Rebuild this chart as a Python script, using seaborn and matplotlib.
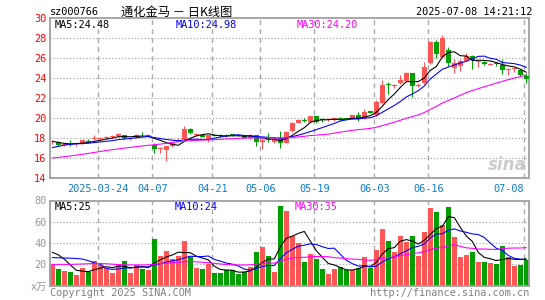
import numpy as np
import pandas as pd
import matplotlib
matplotlib.use("Agg")
import matplotlib.pyplot as plt
import seaborn as sns

sns.set_style("white")
plt.rcParams['font.family'] = ['DejaVu Sans Mono', 'Noto Sans CJK SC']

# ---------------- data ----------------
opens = [17.55, 17.6, 17.3, 17.5, 17.35, 17.45, 17.7, 17.85, 17.9, 17.95,
         18.05, 18.2, 18.25, 17.85, 18.05, 18.4, 18.15, 17.3, 16.85, 16.8,
         17.2, 17.6, 17.9, 18.85, 18.3, 18.3, 17.75, 18.3, 18.25, 18.3,
         18.35, 18.3, 18.25, 17.95, 18.25, 17.6, 17.85, 17.6, 18.0, 17.5,
         18.65, 19.5, 19.8, 19.55, 20.15, 19.85, 19.75, 19.75, 19.95, 19.95,
         19.9, 20.25, 19.9, 20.65, 20.25, 21.45, 23.3, 23.2, 23.45, 23.65,
         24.45, 23.2, 23.45, 25.5, 27.6, 26.05, 26.75, 25.0, 25.2, 25.7,
         26.2, 25.55, 25.55, 25.3, 25.45, 25.25, 24.8, 24.85, 24.75, 24.2]
highs = [17.75, 17.65, 17.5, 17.75, 17.5, 17.8, 17.85, 18.3, 18.1, 18.15,
         18.25, 18.45, 18.3, 18.05, 18.35, 18.55, 18.35, 17.45, 17.05, 17.2,
         17.6, 17.95, 19.15, 18.95, 18.45, 18.35, 18.3, 18.35, 18.35, 18.4,
         18.4, 18.35, 18.3, 18.4, 18.3, 17.85, 18.45, 17.95, 18.65, 18.65,
         19.6, 19.9, 19.95, 20.2, 20.2, 19.95, 19.95, 20.05, 20.1, 20.0,
         20.3, 20.55, 20.85, 20.7, 21.75, 23.75, 23.6, 23.35, 24.3, 24.6,
         24.5, 23.45, 25.6, 27.65, 27.8, 28.25, 27.05, 25.9, 25.9, 26.5,
         26.3, 25.75, 25.65, 25.45, 25.6, 25.9, 24.95, 25.0, 24.8, 24.45]
lows = [17.4, 17.2, 17.2, 17.2, 17.15, 17.35, 17.5, 17.75, 17.8, 17.85,
        17.95, 18.1, 17.85, 17.8, 18.0, 18.2, 18.1, 16.5, 16.5, 15.7,
        17.1, 17.55, 17.85, 18.4, 18.2, 18.05, 17.6, 18.15, 18.1, 18.1,
        18.15, 18.15, 17.95, 17.9, 17.2, 16.9, 17.6, 17.5, 16.95, 17.45,
        18.6, 19.45, 19.55, 19.5, 19.45, 19.6, 19.65, 19.7, 19.75, 19.75,
        19.85, 19.7, 19.85, 20.45, 20.2, 21.4, 22.4, 23.0, 23.4, 23.6,
        22.1, 23.05, 23.4, 25.4, 26.0, 26.0, 25.2, 24.5, 24.7, 25.65,
        24.9, 25.1, 25.3, 25.25, 25.2, 24.35, 24.3, 24.6, 24.2, 23.5]
closes = [17.6, 17.3, 17.4, 17.45, 17.45, 17.75, 17.6, 18.0, 18.0, 18.05,
          18.2, 18.35, 18.0, 17.95, 18.25, 18.35, 18.3, 16.9, 16.95, 17.15,
          17.5, 17.8, 18.85, 18.5, 18.35, 18.1, 18.25, 18.2, 18.15, 18.25,
          18.2, 18.25, 18.0, 18.3, 17.6, 17.8, 17.75, 17.9, 17.5, 18.6,
          19.5, 19.75, 19.7, 20.15, 19.6, 19.8, 19.8, 19.95, 19.9, 19.85,
          20.25, 19.9, 20.55, 20.5, 21.55, 23.25, 23.25, 23.3, 23.8, 24.45,
          23.2, 23.3, 25.1, 27.6, 26.35, 28.0, 25.5, 25.45, 25.65, 26.2,
          25.8, 25.6, 25.35, 25.4, 25.4, 24.8, 24.9, 24.9, 24.25, 23.85]
volumes = [20.4, 15.7, 13.8, 12.5, 10.0, 16.6, 12.9, 23.2, 19.5, 17.0,
           11.9, 20.0, 23.2, 11.9, 19.5, 15.7, 14.7, 43.9, 27.9, 32.6,
           25.1, 27.9, 42.0, 27.3, 16.6, 15.7, 20.0, 11.9, 11.9, 14.4,
           14.4, 11.0, 12.5, 17.6, 31.4, 36.1, 27.6, 12.9, 75.0, 70.6,
           46.7, 40.2, 22.3, 29.8, 25.4, 15.7, 11.0, 15.7, 17.6, 14.7,
           14.7, 17.0, 27.3, 17.0, 33.6, 53.6, 42.4, 32.0, 47.0, 41.4,
           47.0, 28.2, 50.0, 73.4, 69.6, 57.0, 74.0, 46.0, 27.3, 28.9,
           32.0, 22.0, 22.6, 21.0, 20.4, 37.0, 27.0, 18.8, 19.5, 24.0]

# moving-average values at the start of the window (history before the first bar)
price_ma5_head = [17.66, 17.55, 17.45, 17.4]
price_ma10_head = [17.03, 17.15, 17.28, 17.35, 17.4, 17.43, 17.47, 17.53, 17.6]
price_ma30_head = [16.0, 16.05, 16.12, 16.2, 16.28, 16.36, 16.45, 16.55, 16.64, 16.74,
                   16.82, 16.9, 16.98, 17.05, 17.12, 17.2, 17.26, 17.32, 17.38, 17.45,
                   17.55, 17.62, 17.68, 17.72, 17.75, 17.78, 17.8, 17.82, 17.85]
vol_ma5_head = [31.4, 29.0, 25.0, 19.5]
vol_ma10_head = [26.4, 26.2, 26.0, 25.8, 25.6, 25.0, 23.5, 21.5, 20.2]
vol_ma30_head = [20.0, 20.0, 20.0, 20.0, 20.2, 20.4, 20.6, 20.8, 20.8, 20.6,
                 20.2, 19.8, 19.6, 19.5, 19.5, 19.5, 19.6, 20.2, 20.8, 21.2,
                 21.6, 22.0, 22.5, 22.6, 22.4, 22.0, 21.6, 21.0, 20.4]

tick_idx = [8, 17, 27, 35, 44, 54, 63, 79]
tick_labels = ["2025-03-24", "04-07", "04-21", "05-06", "05-19", "06-03", "06-16", "07-08"]

price_legend = ["MA5:24.48", "MA10:24.98", "MA30:24.20"]
vol_legend = ["MA5:25", "MA10:24", "MA30:35"]

# ---------------- derived frame ----------------
n = len(closes)
df = pd.DataFrame({"i": np.arange(n), "open": opens, "high": highs, "low": lows,
                   "close": closes, "vol": volumes})


def ma(series, w, head):
    m = series.rolling(w).mean()
    m.iloc[:len(head)] = head
    return m


df["ma5"] = ma(df["close"], 5, price_ma5_head)
df["ma10"] = ma(df["close"], 10, price_ma10_head)
df["ma30"] = ma(df["close"], 30, price_ma30_head)
df["vma5"] = ma(df["vol"], 5, vol_ma5_head)
df["vma10"] = ma(df["vol"], 10, vol_ma10_head)
df["vma30"] = ma(df["vol"], 30, vol_ma30_head)

RED = "#FF5555"
GREEN = "#009F00"
up = df["close"] >= df["open"]
cols = np.where(up, RED, GREEN)

# ---------------- figure ----------------
W, H = 545, 300
fig = plt.figure(figsize=(W / 100, H / 100), dpi=100)
fig.patch.set_facecolor("white")


def rect(x0, y0, x1, y1):
    return [x0 / W, 1 - y1 / H, (x1 - x0) / W, (y1 - y0) / H]


ax = fig.add_axes(rect(50, 17.5, 529, 178))
axv = fig.add_axes(rect(50, 200.5, 529, 285.7))

xlim = (-0.38, n - 1 + 0.45)
grid_pos = [t - 0.33 for t in tick_idx]
FRAME = "#A0A0A0"
GRID = "#AAAAAA"
LW = 0.78

for a in (ax, axv):
    a.set_xlim(*xlim)
    for s in a.spines.values():
        s.set_color(FRAME)
        s.set_linewidth(1.3)
    for g in grid_pos:
        a.axvline(g, color=GRID, lw=1.0, ls=(0, (3.5, 3)), zorder=0)

# price panel
ax.set_ylim(14, 30)
for v in range(16, 30, 2):
    ax.axhline(v, color=GRID, lw=0.9, ls=(0, (1, 1.6)), zorder=0)
ax.vlines(df["i"], df["low"], df["high"], colors=cols, lw=LW, zorder=2)
body_bottom = np.minimum(df["open"], df["close"])
body_h = np.maximum((df["close"] - df["open"]).abs(), 0.08)
ax.bar(df["i"], body_h, bottom=body_bottom, width=0.8, color=cols, linewidth=0, zorder=3)
sns.lineplot(data=df, x="i", y="ma5", ax=ax, color="black", lw=LW, zorder=4, legend=False)
sns.lineplot(data=df, x="i", y="ma10", ax=ax, color="#0000FF", lw=LW, zorder=4, legend=False)
sns.lineplot(data=df, x="i", y="ma30", ax=ax, color="#FF00FF", lw=LW, zorder=4, legend=False)
ax.set_xlabel("")
ax.set_ylabel("")
ax.set_yticks(range(14, 31, 2))
ax.set_yticklabels([str(v) for v in range(14, 31, 2)])
ax.tick_params(axis="y", length=0, pad=2.5, labelcolor="#FF0000", labelsize=7.4)
ax.set_xticks(grid_pos)
ax.set_xticklabels(tick_labels)
ax.tick_params(axis="x", length=0, pad=4.5, labelcolor="#0A7FCC", labelsize=7.4)
ax.get_xticklabels()[-1].set_horizontalalignment("right")
ax.get_xticklabels()[-1].set_x(grid_pos[-1] + 0.3)

# volume panel
axv.set_ylim(0, 80)
for v in (20, 40, 60):
    axv.axhline(v, color=GRID, lw=0.9, ls=(0, (1, 1.6)), zorder=0)
axv.bar(df["i"], df["vol"], width=0.82, color=cols, linewidth=0, zorder=2)
sns.lineplot(data=df, x="i", y="vma5", ax=axv, color="black", lw=LW, zorder=4, legend=False)
sns.lineplot(data=df, x="i", y="vma10", ax=axv, color="#0000FF", lw=LW, zorder=4, legend=False)
sns.lineplot(data=df, x="i", y="vma30", ax=axv, color="#FF00FF", lw=LW, zorder=4, legend=False)
axv.set_xlabel("")
axv.set_ylabel("")
axv.set_xticks([])
axv.set_yticks([0, 20, 40, 60, 80])
axv.set_yticklabels(["x万", "20", "40", "60", "80"])
axv.tick_params(axis="y", length=0, pad=2.5, labelcolor="#999999", labelsize=7.4)


def ftext(x, y, s, **kw):
    fig.text(x / W, 1 - y / H, s, **kw)


# header
ftext(50, 12, "sz000766", fontsize=7.4, color="black", va="center", ha="left")
ftext(121, 12, "通化金马 － 日K线图", fontsize=8.8, color="black", va="center", ha="left",
      family=["Noto Sans CJK SC", "DejaVu Sans"])
ftext(532, 12, "2025-07-08 14:21:12", fontsize=7.4, color="black", va="center", ha="right")

# legends
for x, s, c in zip([55, 175.5, 296.5], price_legend, ["black", "#0000FF", "#FF00FF"]):
    ftext(x, 25, s, fontsize=7.4, color=c, va="center", ha="left")
for x, s, c in zip([54.5, 174.7, 295], vol_legend, ["black", "#0000FF", "#FF00FF"]):
    ftext(x, 207, s, fontsize=7.4, color=c, va="center", ha="left")

# watermark
ftext(527, 165, "sina", fontsize=12, color="#CCCCCC", va="center", ha="right",
      style="italic", weight="bold", family=["DejaVu Sans"])

# footer
ftext(50, 293, "Copyright 2025 SINA.COM", fontsize=7.4, color="#808080", va="center", ha="left")
ftext(529, 293, "http://finance.sina.com.cn", fontsize=7.4, color="#808080", va="center", ha="right")

fig.savefig("out.png", dpi=100, facecolor="white")
